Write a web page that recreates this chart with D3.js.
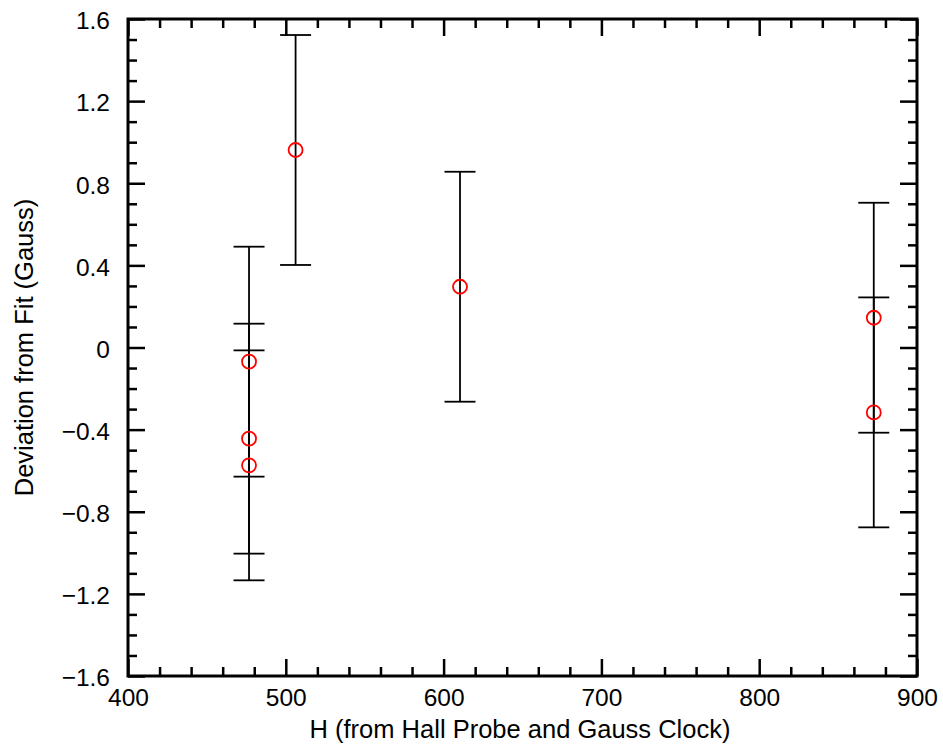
<!DOCTYPE html>
<html>
<head>
<meta charset="utf-8">
<script src="https://cdn.jsdelivr.net/npm/d3@7"></script>
<style>
  body { margin: 0; background: #fff; }
  text { font-family: "Liberation Sans", Arial, sans-serif; }
</style>
</head>
<body>
<div id="chart"></div>
<script>
// measured values
const hField = [476.7, 476.7, 476.7, 506.2, 610.4, 872.6, 872.6]
const deviation = [-0.069, -0.444, -0.574, 0.962, 0.296, 0.145, -0.316]
const errBar = [0.56, 0.56, 0.56, 0.56, 0.56, 0.56, 0.56]

const xTicks = [400, 500, 600, 700, 800, 900]
const yTicks = [-1.6, -1.2, -0.8, -0.4, 0, 0.4, 0.8, 1.2, 1.6]
const yTickLabels = ['\u22121.6', '\u22121.2', '\u22120.8', '\u22120.4', '0', '0.4', '0.8', '1.2', '1.6']

const data = hField.map((h, i) => ({ h, dev: deviation[i], err: errBar[i] }))

const width = 943, height = 751
const margin = { top: 19, right: 26, bottom: 75, left: 128 }
const innerW = width - margin.left - margin.right
const innerH = height - margin.top - margin.bottom

const svg = d3.select('#chart').append('svg')
  .attr('width', width)
  .attr('height', height)

const g = svg.append('g')
  .attr('transform', `translate(${margin.left},${margin.top})`)

const x = d3.scaleLinear().domain([400, 900]).range([0, innerW])
const y = d3.scaleLinear().domain([-1.6, 1.6]).range([innerH, 0])

const xMinor = d3.range(400, 901, 20).filter(v => v % 100 !== 0)
const yMinor = d3.range(-16, 17, 1).filter(v => v % 4 !== 0).map(v => v / 10)

// ticks on all four sides, pointing inward
const styleAxis = sel => {
  sel.select('.domain').remove()
  sel.selectAll('line').attr('stroke', '#000').attr('stroke-width', 2.5)
  sel.selectAll('text')
    .attr('font-size', 24.5)
    .attr('fill', '#000')
}

g.append('g')
  .attr('transform', `translate(0,${innerH})`)
  .call(d3.axisBottom(x).tickValues(xTicks).tickFormat(d3.format('d')).tickSize(-17).tickPadding(13))
  .call(styleAxis)

g.append('g')
  .attr('transform', `translate(0,${innerH})`)
  .call(d3.axisBottom(x).tickValues(xMinor).tickFormat('').tickSize(-9))
  .call(styleAxis)

g.append('g')
  .call(d3.axisTop(x).tickValues(xTicks).tickFormat('').tickSize(-17))
  .call(styleAxis)

g.append('g')
  .call(d3.axisTop(x).tickValues(xMinor).tickFormat('').tickSize(-9))
  .call(styleAxis)

g.append('g')
  .call(d3.axisLeft(y).tickValues(yTicks).tickFormat((d, i) => yTickLabels[i]).tickSize(-17).tickPadding(18))
  .call(styleAxis)
  .call(a => a.selectAll('text').attr('dy', '0.4em'))

g.append('g')
  .call(d3.axisLeft(y).tickValues(yMinor).tickFormat('').tickSize(-9))
  .call(styleAxis)

g.append('g')
  .attr('transform', `translate(${innerW},0)`)
  .call(d3.axisRight(y).tickValues(yTicks).tickFormat('').tickSize(-17))
  .call(styleAxis)

g.append('g')
  .attr('transform', `translate(${innerW},0)`)
  .call(d3.axisRight(y).tickValues(yMinor).tickFormat('').tickSize(-9))
  .call(styleAxis)

// frame
g.append('rect')
  .attr('width', innerW)
  .attr('height', innerH)
  .attr('fill', 'none')
  .attr('stroke', '#000')
  .attr('stroke-width', 3)

// error bars
const capW = 15.5
const bars = g.selectAll('.err')
  .data(data)
  .join('g')
  .attr('class', 'err')
  .attr('stroke', '#000')
  .attr('stroke-width', 1.8)

bars.append('line')
  .attr('x1', d => x(d.h)).attr('x2', d => x(d.h))
  .attr('y1', d => y(d.dev + d.err)).attr('y2', d => y(d.dev - d.err))
bars.append('line')
  .attr('x1', d => x(d.h) - capW).attr('x2', d => x(d.h) + capW)
  .attr('y1', d => y(d.dev + d.err)).attr('y2', d => y(d.dev + d.err))
bars.append('line')
  .attr('x1', d => x(d.h) - capW).attr('x2', d => x(d.h) + capW)
  .attr('y1', d => y(d.dev - d.err)).attr('y2', d => y(d.dev - d.err))

// points
g.selectAll('.pt')
  .data(data)
  .join('circle')
  .attr('class', 'pt')
  .attr('cx', d => x(d.h))
  .attr('cy', d => y(d.dev))
  .attr('r', 7)
  .attr('fill', 'none')
  .attr('stroke', '#ff0000')
  .attr('stroke-width', 1.8)

// axis titles
svg.append('text')
  .attr('x', 520)
  .attr('y', 738)
  .attr('text-anchor', 'middle')
  .attr('font-size', 25.5)
  .text('H (from Hall Probe and Gauss Clock)')

svg.append('text')
  .attr('transform', `translate(33,${margin.top + innerH / 2}) rotate(-90)`)
  .attr('text-anchor', 'middle')
  .attr('font-size', 25.5)
  .text('Deviation from Fit (Gauss)')
</script>
</body>
</html>
